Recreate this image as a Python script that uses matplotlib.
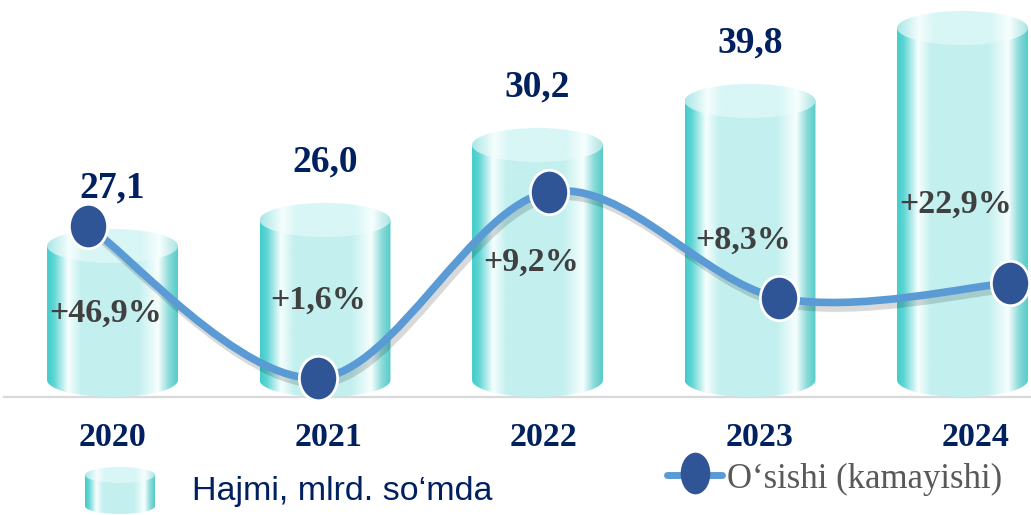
import numpy as np
import matplotlib.pyplot as plt
from matplotlib.path import Path
from matplotlib.patches import PathPatch, Ellipse
from matplotlib.colors import LinearSegmentedColormap
from matplotlib.transforms import Affine2D
import matplotlib.patheffects as pe

# data
years = ['2020', '2021', '2022', '2023', '2024']
volume = [27.1, 26.0, 30.2, 39.8, 48.9]      # mlrd. so'm
growth = [46.9, 1.6, 9.2, 8.3, 22.9]          # %
# the infographic is not drawn to scale: heights as they appear in the picture
bar_height = [134, 160, 235, 279, 352]
growth_level = [154, 2, 188, 82, 97]

NAVY = '#002060'
GREY = '#404040'

body_cmap = LinearSegmentedColormap.from_list('body', [
    (0.00, '#40CDCC'), (0.05, '#5ED5D3'), (0.16, '#F7FEFE'), (0.26, '#C3F0EF'),
    (0.70, '#C3F0EF'), (0.85, '#F7FEFE'), (0.93, '#8EDCDA'), (1.00, '#55CBC8')])
top_cmap = LinearSegmentedColormap.from_list('top', [
    (0.00, '#A9E7E6'), (0.17, '#F5FDFD'), (0.28, '#D8F6F5'),
    (0.72, '#D8F6F5'), (0.86, '#F7FEFE'), (1.00, '#A9E4E2')])
grad = np.linspace(0, 1, 256).reshape(1, -1)


def cylinder(ax, xc, w, y0, y1, eh, z=2):
    x0, x1 = xc - w / 2, xc + w / 2
    t = np.linspace(np.pi, 2 * np.pi, 80)
    verts = [(x0, y1)] + list(zip(xc + w / 2 * np.cos(t), y0 + eh / 2 * np.sin(t))) + [(x1, y1), (x0, y1)]
    body = PathPatch(Path(verts), fc='none', ec='none')
    ax.add_patch(body)
    im = ax.imshow(grad, extent=[x0, x1, y0 - eh / 2, y1], aspect='auto', cmap=body_cmap,
                   interpolation='bilinear', zorder=z)
    im.set_clip_path(body)
    top = Ellipse((xc, y1), w, eh, fc='none', ec='none')
    ax.add_patch(top)
    im2 = ax.imshow(grad, extent=[x0, x1, y1 - eh / 2, y1 + eh / 2], aspect='auto', cmap=top_cmap,
                    interpolation='bilinear', zorder=z + 0.1)
    im2.set_clip_path(top)


fig = plt.figure(figsize=(10.31, 5.15), dpi=100)
ax = fig.add_axes([0, 0, 1, 1])
ax.axis('off')

x = np.arange(len(years))
for xi, h in zip(x, bar_height):
    cylinder(ax, xi, 0.616, 0, h, 34)

ax.axhline(-17, xmin=4 / 1031, xmax=1, color='#D9D9D9', lw=1.6, zorder=1)

# legend cylinder
cylinder(ax, (120 - 112.5) / 212.5, 70 / 212.5, -126, -95, 16)

ax.set_xlim(-112.5 / 212.5, (1031 - 112.5) / 212.5)
ax.set_ylim(-135, 380)

# growth line on its own x spacing
ax2 = fig.add_axes([0, 0, 1, 1])
ax2.axis('off')
ax2.patch.set_alpha(0)
ax2.set_xlim(-88 / 230.5, (1031 - 88) / 230.5)
ax2.set_ylim(-135, 380)

pts = np.column_stack([x, growth_level]).astype(float)
verts = [pts[0]]
codes = [Path.MOVETO]
n = len(pts)
for i in range(n - 1):
    p_prev, p0, p1, p_next = pts[max(i - 1, 0)], pts[i], pts[i + 1], pts[min(i + 2, n - 1)]
    verts += [p0 + (p1 - p_prev) / 6, p1 - (p_next - p0) / 6, p1]
    codes += [Path.CURVE4] * 3
curve = PathPatch(Path(verts, codes), fc='none', ec='#5B9BD5', lw=5.5, capstyle='round', zorder=3,
                  path_effects=[pe.SimpleLineShadow(offset=(2, -4), shadow_color='k', alpha=0.15),
                                pe.Normal()])
ax2.add_patch(curve)

ell = Path.unit_circle().transformed(Affine2D().scale(0.86, 1))
ax2.plot(x, growth_level, ls='none', marker=ell, ms=32, mfc='#2F5597', mec='white', mew=2, zorder=4)

# texts (the 2024 volume label lies above the top edge in the reference, so it is not shown)
for xi, h, v, g, yr in zip(x, bar_height, volume, growth, years):
    if h + 58 + 20 < 380:
        ax2.text(xi, h + 58, f'{v:.1f}'.replace('.', ','), transform=ax.transData, ha='center',
                 va='center', family='Liberation Serif', weight='bold', size=27, color=NAVY, zorder=5)
    ax2.text(xi - 0.03, h / 2, f'+{g:.1f}%'.replace('.', ','), transform=ax.transData, ha='center',
             va='center', family='Liberation Serif', weight='bold', size=24.5, color=GREY, zorder=5)
    ax2.text(xi * 1.015, -57, yr, transform=ax.transData, ha='center', va='center',
             family='Liberation Serif', weight='bold', size=24.5, color=NAVY, zorder=5)

# legend
ax2.text((192 - 112.5) / 212.5, 380 - 500, 'Hajmi, mlrd. so\u2018mda', transform=ax.transData,
         ha='left', va='baseline', family='Liberation Sans', size=24.5, color=NAVY)
ax2.plot([(667 - 112.5) / 212.5, (722 - 112.5) / 212.5], [-95, -95], transform=ax.transData,
         color='#5B9BD5', lw=5, solid_capstyle='round', zorder=3)
leg_ell = Path.unit_circle().transformed(Affine2D().scale(0.71, 1))
ax2.plot([(695 - 112.5) / 212.5], [-93], transform=ax.transData, marker=leg_ell, ms=30,
         mfc='#2F5597', mec='#2F5597', mew=0, zorder=4)
ax2.text((727 - 112.5) / 212.5, 380 - 488, 'O\u2018sishi (kamayishi)', transform=ax.transData,
         ha='left', va='baseline', family='Liberation Serif', size=25, color='#595959')

fig.savefig('out.png', dpi=100)
